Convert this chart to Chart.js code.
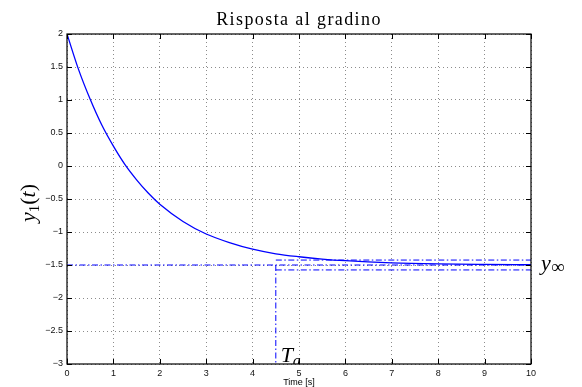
<!DOCTYPE html>
<html>
<head>
<meta charset="utf-8">
<script src="https://cdn.jsdelivr.net/npm/chart.js@4.4.0/dist/chart.umd.min.js"></script>
<style>
  html, body { margin: 0; padding: 0; background: #fff; }
  canvas { display: block; }
</style>
</head>
<body>
<canvas id="c" width="582" height="387"></canvas>
<script>
// values
const timeS = [0, 0.25, 0.5, 0.75, 1, 1.25, 1.5, 1.75, 2, 2.5, 3, 3.5, 4, 4.5, 5, 5.5, 6, 7, 8, 9, 10];
const y1 = [2.0, 1.46, 1.01, 0.62, 0.30, 0.02, -0.21, -0.41, -0.58, -0.84, -1.03, -1.16, -1.26, -1.33, -1.375, -1.41, -1.435, -1.467, -1.483, -1.491, -1.496];
const yInf = -1.5;
const band = 0.075;       // 5% band
const settleTime = 4.5;   // T_a
const xMin = 0, xMax = 10, yMin = -3, yMax = 2;

const serif = '"Liberation Serif", "DejaVu Serif", serif';
const sans = '"Liberation Sans", Arial, sans-serif';
const blue = '#0000ff';
const dashDot = [6, 2.5, 1.5, 2.5];

function seg(x0, x1, y0, y1v) {
  return [{ x: x0, y: y0 }, { x: x1, y: y1v }];
}

const decor = {
  id: 'decor',
  afterDatasetsDraw(chart) {
    const { ctx, chartArea: a, scales: { x, y } } = chart;
    ctx.save();
    // box
    ctx.strokeStyle = '#000';
    ctx.lineWidth = 1.2;
    ctx.strokeRect(a.left, a.top, a.right - a.left, a.bottom - a.top);
    // inward ticks on all sides
    ctx.lineWidth = 1;
    const tl = 5;
    ctx.beginPath();
    for (let v = xMin; v <= xMax; v += 1) {
      const px = Math.round(x.getPixelForValue(v)) + 0.5;
      ctx.moveTo(px, a.bottom); ctx.lineTo(px, a.bottom - tl);
      ctx.moveTo(px, a.top); ctx.lineTo(px, a.top + tl);
    }
    for (let v = yMin; v <= yMax; v += 0.5) {
      const py = Math.round(y.getPixelForValue(v)) + 0.5;
      ctx.moveTo(a.left, py); ctx.lineTo(a.left + tl, py);
      ctx.moveTo(a.right, py); ctx.lineTo(a.right - tl, py);
    }
    ctx.stroke();

    // title
    ctx.fillStyle = '#000';
    ctx.textAlign = 'center';
    ctx.textBaseline = 'alphabetic';
    ctx.font = '18px ' + serif;
    ctx.letterSpacing = '1.4px';
    ctx.fillText('Risposta al gradino', (a.left + a.right) / 2, 25);
    ctx.letterSpacing = '0px';

    // x label
    ctx.font = '9px ' + sans;
    ctx.fillText('Time [s]', (a.left + a.right) / 2, 385);

    // y_inf label
    ctx.textAlign = 'left';
    const yb = y.getPixelForValue(yInf) + 5;
    ctx.font = 'italic 22px ' + serif;
    ctx.fillText('y', 541, yb);
    ctx.font = '19px ' + serif;
    ctx.fillText('\u221e', 551, yb + 3);

    // y label rotated
    ctx.save();
    ctx.translate(35, 203);
    ctx.rotate(-Math.PI / 2);
    const parts = [
      ['y', 'italic 22px ' + serif, 0],
      ['1', '15px ' + serif, 4],
      ['(', '22px ' + serif, 0],
      ['t', 'italic 22px ' + serif, 0],
      [')', '22px ' + serif, 0]
    ];
    let w = 0;
    parts.forEach(p => { ctx.font = p[1]; w += ctx.measureText(p[0]).width; });
    let cx = -w / 2;
    parts.forEach(p => { ctx.font = p[1]; ctx.fillText(p[0], cx, p[2]); cx += ctx.measureText(p[0]).width; });
    ctx.restore();

    // T_a label, clipped to plot area
    ctx.save();
    ctx.beginPath();
    ctx.rect(a.left, a.top, a.right - a.left, a.bottom - a.top);
    ctx.clip();
    const tx = x.getPixelForValue(settleTime) + 5;
    ctx.font = 'italic 22px ' + serif;
    ctx.fillText('T', tx, 362);
    ctx.font = 'italic 16px ' + serif;
    ctx.fillText('a', tx + 12, 366);
    ctx.restore();

    ctx.restore();
  }
};

new Chart(document.getElementById('c'), {
  type: 'line',
  data: {
    datasets: [
      {
        data: timeS.map((t, i) => ({ x: t, y: y1[i] })),
        borderColor: blue, borderWidth: 1.3, pointRadius: 0,
        cubicInterpolationMode: 'monotone', fill: false
      },
      {
        data: seg(xMin, xMax, yInf, yInf),
        borderColor: blue, borderWidth: 1, borderDash: dashDot, pointRadius: 0
      },
      {
        data: seg(settleTime, xMax, yInf + band, yInf + band),
        borderColor: blue, borderWidth: 1, borderDash: dashDot, pointRadius: 0
      },
      {
        data: seg(settleTime, xMax, yInf - band, yInf - band),
        borderColor: blue, borderWidth: 1, borderDash: dashDot, pointRadius: 0
      },
      {
        data: seg(settleTime, settleTime, yInf, yMin),
        borderColor: blue, borderWidth: 1, borderDash: dashDot, pointRadius: 0
      }
    ]
  },
  options: {
    responsive: false,
    animation: false,
    layout: { padding: { top: 34, right: 51, left: 0, bottom: 0 } },
    plugins: { legend: { display: false }, title: { display: false }, tooltip: { enabled: false } },
    scales: {
      x: {
        type: 'linear', min: xMin, max: xMax,
        ticks: { stepSize: 1, font: { family: sans, size: 9 }, color: '#111', padding: 4, maxRotation: 0 },
        grid: { color: 'rgba(0,0,0,0.45)', lineWidth: 1, drawTicks: false },
        border: { display: false, dash: [1, 3] },
        afterFit(s) { s.height = 23; }
      },
      y: {
        min: yMin, max: yMax,
        ticks: {
          stepSize: 0.5, font: { family: sans, size: 9 }, color: '#111', padding: 4,
          callback: v => String(v).replace('-', '\u2212')
        },
        grid: { color: 'rgba(0,0,0,0.45)', lineWidth: 1, drawTicks: false },
        border: { display: false, dash: [1, 3] },
        afterFit(s) { s.width = 67; }
      }
    }
  },
  plugins: [decor]
});
</script>
</body>
</html>
